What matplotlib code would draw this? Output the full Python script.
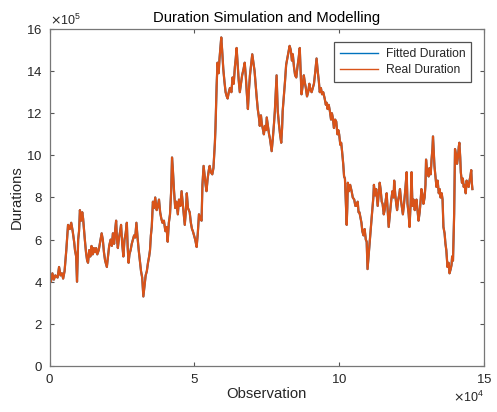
import numpy as np
import matplotlib
matplotlib.use("Agg")
import matplotlib.pyplot as plt
from matplotlib.ticker import ScalarFormatter

# observation index (x 1e4) and duration (x 1e5)
obs_e4 = [
0.00,0.05,0.10,0.15,0.20,0.28,0.33,0.38,0.43,0.47,0.52,0.58,0.64,0.70,0.75,0.80,0.85,0.88,0.92,0.95,
0.97,0.99,1.02,1.05,1.09,1.13,1.16,1.19,1.22,1.26,1.30,1.33,1.37,1.41,1.45,1.49,1.53,1.57,1.61,1.65,
1.70,1.75,1.80,1.84,1.88,1.92,1.98,2.02,2.06,2.11,2.15,2.19,2.23,2.27,2.30,2.33,2.36,2.40,2.44,2.47,
2.51,2.55,2.59,2.63,2.67,2.70,2.73,2.76,2.80,2.84,2.88,2.92,2.96,3.00,3.04,3.08,3.12,3.16,3.20,3.24,
3.28,3.32,3.36,3.40,3.44,3.47,3.50,3.53,3.57,3.61,3.65,3.70,3.74,3.78,3.82,3.86,3.90,3.95,4.00,4.04,
4.08,4.12,4.16,4.20,4.23,4.26,4.30,4.34,4.38,4.43,4.47,4.52,4.56,4.60,4.64,4.67,4.71,4.74,4.78,4.84,
4.88,4.92,4.95,4.99,5.03,5.08,5.12,5.16,5.20,5.25,5.28,5.32,5.36,5.39,5.42,5.46,5.50,5.53,5.57,5.62,
5.66,5.68,5.71,5.73,5.75,5.77,5.80,5.84,5.87,5.90,5.93,5.96,6.00,6.04,6.08,6.12,6.15,6.19,6.23,6.28,
6.32,6.36,6.40,6.43,6.46,6.50,6.53,6.57,6.61,6.65,6.70,6.74,6.78,6.81,6.85,6.88,6.92,6.96,7.00,7.04,
7.08,7.12,7.15,7.19,7.23,7.26,7.30,7.33,7.36,7.40,7.44,7.48,7.50,7.54,7.58,7.61,7.64,7.67,7.71,7.75,
7.78,7.81,7.84,7.86,7.88,7.92,7.96,8.00,8.03,8.05,8.09,8.13,8.17,8.21,8.25,8.29,8.33,8.37,8.40,8.44,
8.48,8.52,8.56,8.60,8.64,8.67,8.70,8.74,8.78,8.81,8.85,8.89,8.93,8.97,9.01,9.05,9.09,9.13,9.17,9.22,
9.26,9.30,9.33,9.37,9.41,9.45,9.50,9.54,9.57,9.60,9.64,9.68,9.72,9.75,9.78,9.82,9.86,9.90,9.94,9.97,
10.00,10.04,10.07,10.10,10.14,10.17,10.20,10.23,10.26,10.28,10.30,10.34,10.38,10.43,10.47,10.52,10.56,10.60,10.64,10.67,
10.70,10.74,10.77,10.80,10.84,10.88,10.92,10.95,10.98,11.02,11.05,11.09,11.12,11.15,11.18,11.20,11.24,11.28,11.33,11.37,
11.40,11.43,11.47,11.50,11.54,11.57,11.61,11.64,11.68,11.71,11.75,11.80,11.84,11.88,11.90,11.94,11.97,12.00,12.04,12.07,
12.10,12.14,12.17,12.20,12.24,12.28,12.33,12.36,12.40,12.43,12.47,12.50,12.53,12.57,12.61,12.64,12.67,12.71,12.74,12.78,
12.81,12.84,12.88,12.91,12.95,12.98,13.00,13.04,13.09,13.12,13.16,13.19,13.22,13.24,13.27,13.29,13.33,13.36,13.40,13.44,
13.47,13.50,13.54,13.57,13.60,13.64,13.67,13.70,13.74,13.78,13.81,13.85,13.88,13.90,13.93,13.95,13.97,13.98,14.00,14.04,
14.07,14.10,14.13,14.15,14.18,14.20,14.24,14.27,14.30,14.33,14.37,14.40,14.43,14.47,14.50,14.53,14.56,14.58,14.60]

real_e5 = [
4.2,4.0,4.4,4.1,4.3,4.2,4.7,4.3,4.4,4.15,4.5,5.5,6.7,6.5,6.8,6.4,5.9,5.5,5.2,4.0,
5.0,6.0,6.4,7.4,6.9,7.3,7.0,6.5,6.0,5.4,5.0,4.9,5.5,5.2,5.7,5.3,5.6,5.4,5.6,5.3,
5.5,5.9,6.3,6.0,5.4,5.0,4.7,5.2,5.7,6.0,5.7,6.3,5.8,6.5,6.9,6.0,5.6,6.1,6.4,6.7,
5.8,5.2,6.0,6.3,6.8,5.6,4.9,5.3,5.5,5.8,6.0,6.2,6.1,6.8,6.1,5.5,5.0,4.5,4.2,3.3,
3.8,4.3,4.5,4.9,5.2,5.5,6.2,6.6,7.8,7.5,8.0,7.4,7.6,7.9,7.3,7.0,6.8,6.9,6.4,6.6,
5.9,6.8,7.2,8.3,9.9,9.3,8.3,7.5,7.8,7.2,7.9,7.6,8.3,7.7,7.1,6.7,7.4,8.2,7.5,7.3,
6.8,6.5,6.4,6.2,6.0,5.65,6.3,7.2,7.0,6.9,8.6,9.5,9.0,8.6,8.3,8.9,9.3,9.5,9.2,9.1,
9.4,9.9,10.6,11.3,12.4,13.3,14.4,13.9,14.6,15.1,15.6,15.0,14.1,13.5,13.0,12.8,12.7,13.0,13.2,13.0,
13.7,13.4,14.2,14.6,15.1,14.2,13.6,13.0,13.4,13.8,14.1,14.4,13.7,13.0,12.2,13.0,13.8,14.3,14.8,14.4,
14.0,13.3,12.8,12.2,11.8,11.4,11.9,11.5,11.3,11.0,11.4,11.2,11.8,11.4,11.0,10.8,10.5,10.2,10.8,11.5,
12.1,13.0,13.8,12.9,12.1,11.5,11.0,10.6,11.3,12.1,12.8,13.5,14.3,14.6,14.9,15.2,15.0,14.5,14.8,14.2,
13.8,13.7,14.2,14.6,15.1,14.0,12.9,13.3,13.8,13.5,13.2,12.8,13.0,13.4,13.1,13.0,13.2,13.4,13.9,14.6,
14.0,13.5,13.0,13.2,12.9,13.0,12.7,12.4,12.5,12.2,12.4,12.1,11.7,12.0,11.8,11.3,11.7,11.6,11.0,11.2,
11.0,10.5,10.6,10.2,9.6,9.0,8.9,7.8,6.7,7.5,8.7,8.3,8.6,8.3,8.0,7.9,7.6,7.6,7.8,7.3,
7.3,7.0,6.8,6.4,6.2,6.5,6.0,5.9,4.6,5.3,5.8,6.5,7.0,7.5,8.0,8.6,8.1,8.4,7.6,8.2,
8.7,8.4,7.8,7.7,7.2,7.4,7.9,8.2,7.3,6.6,7.2,7.9,8.3,8.0,8.8,8.1,7.7,7.4,7.9,8.1,
8.4,7.8,7.5,7.2,7.7,8.3,9.2,7.7,7.2,6.6,7.8,9.2,7.6,7.9,7.4,7.7,7.9,7.3,6.9,7.3,
7.8,8.4,8.1,7.7,8.0,8.6,9.8,9.2,9.0,9.4,9.1,9.8,10.3,10.9,10.0,9.5,8.9,8.5,8.8,8.2,
8.4,8.0,8.2,7.9,6.6,6.3,5.8,5.5,4.7,4.9,4.4,4.6,4.8,5.2,5.0,6.1,7.2,8.2,10.3,10.0,
9.6,9.9,10.4,10.6,9.9,9.2,8.7,8.9,8.5,8.6,8.2,8.8,8.6,8.5,8.8,9.0,9.3,8.7,8.4]

fitted_start_e5 = 0.0

x = np.array(obs_e4) * 1e4
real = np.array(real_e5) * 1e5
# fitted series starts from zero and then coincides with the real one
x_fit = np.concatenate([[x[0]], x])
fitted = np.concatenate([[fitted_start_e5 * 1e5], real])


class FixedOrderFormatter(ScalarFormatter):
    def __init__(self, order):
        self._fixed_order = order
        super().__init__(useMathText=True)

    def _set_order_of_magnitude(self):
        self.orderOfMagnitude = self._fixed_order


plt.rcParams['font.family'] = ['Liberation Sans', 'DejaVu Sans']

fig = plt.figure(figsize=(4.97, 4.12), dpi=100)
ax = fig.add_axes([0.0996, 0.1117, 0.8742, 0.8179])

blue = '#0072BD'
orange = '#D95319'
ax.plot(x_fit, fitted, color=blue, lw=1.5, label='Fitted Duration')
ax.plot(x, real, color=orange, lw=1.6, label='Real Duration')

ax.set_xlim(0, 15e4)
ax.set_ylim(0, 16e5)
ax.set_xticks([0, 5e4, 10e4, 15e4])
ax.set_yticks(np.arange(0, 17e5, 2e5))

ax.xaxis.set_major_formatter(FixedOrderFormatter(4))
ax.yaxis.set_major_formatter(FixedOrderFormatter(5))

grey = '#262626'
ax.tick_params(direction='in', length=3, width=0.8, colors='#555555',
               labelcolor=grey, labelsize=9.5, top=True, right=True, pad=5)
for s in ax.spines.values():
    s.set_color('#777777')
    s.set_linewidth(0.9)
ax.xaxis.get_offset_text().set_fontsize(9)
ax.yaxis.get_offset_text().set_fontsize(9)
ax.xaxis.get_offset_text().set_color(grey)
ax.yaxis.get_offset_text().set_color(grey)

ax.set_title('Duration Simulation and Modelling', fontsize=10.7, color='black', pad=5)
ax.set_xlabel('Observation', fontsize=10.7, color=grey, labelpad=1)
ax.set_ylabel('Durations', fontsize=10.7, color=grey, labelpad=2)

leg = ax.legend(loc='upper right', fontsize=8.7, frameon=True, fancybox=False,
                edgecolor='#262626', borderpad=0.5, handlelength=3.2,
                handletextpad=0.6, bbox_to_anchor=(0.9706, 0.961),
                labelspacing=0.35, borderaxespad=0.0)
leg.get_frame().set_linewidth(0.9)
for line in leg.get_lines():
    line.set_linewidth(1.0)
for t in leg.get_texts():
    t.set_color(grey)

fig.savefig('out.png', dpi=100)
